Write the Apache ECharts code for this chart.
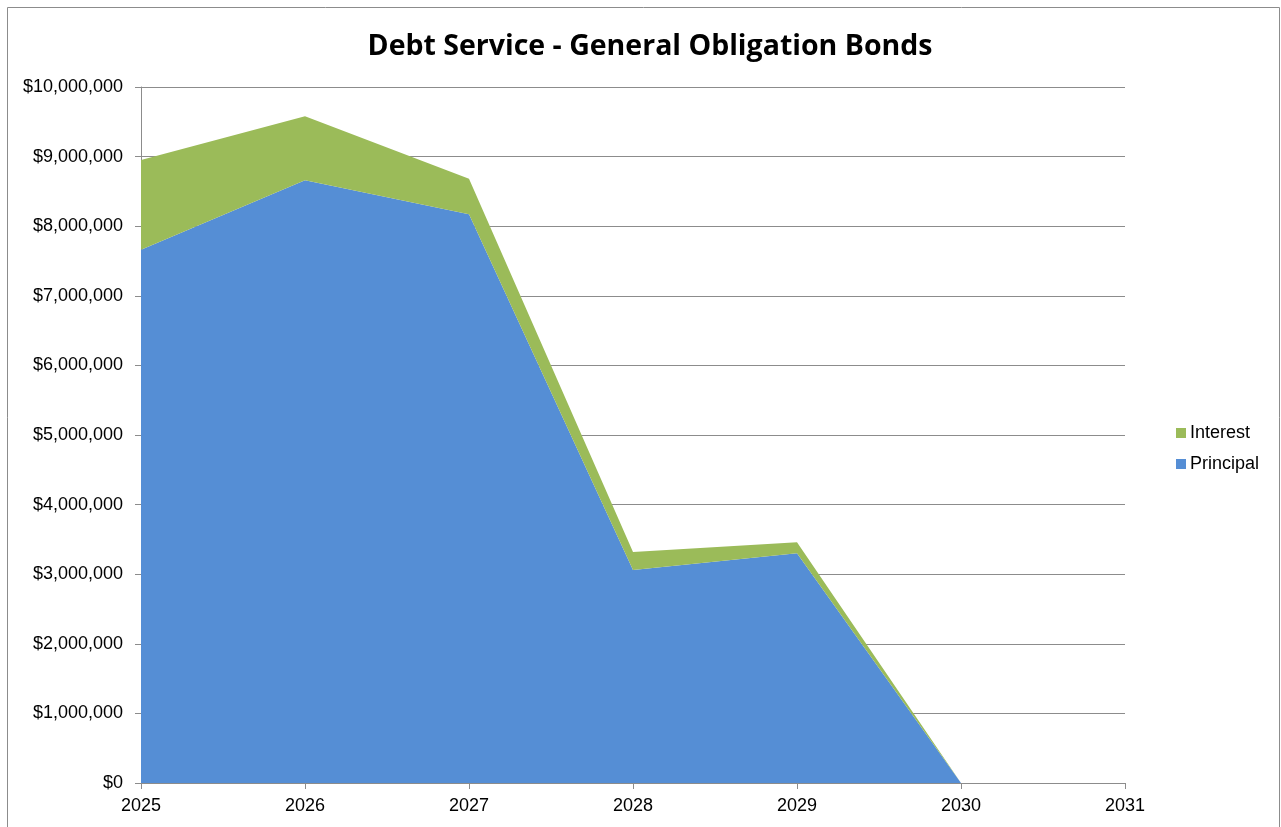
<!DOCTYPE html>
<html>
<head>
<meta charset="utf-8">
<script src="https://cdn.jsdelivr.net/npm/echarts@6/dist/echarts.min.js"></script>
<style>
  html, body { margin: 0; padding: 0; background: #fff; }
  #chart { width: 1281px; height: 827px; }
</style>
</head>
<body>
<div id="chart"></div>
<script>
  // chart values
  const years = ['2025', '2026', '2027', '2028', '2029', '2030', '2031'];
  const principal = [7660000, 8660000, 8170000, 3060000, 3300000, 0, null];
  const interest = [1290000, 920000, 510000, 260000, 160000, 0, null];
  const yTicks = { min: 0, max: 10000000, interval: 1000000 };

  let chart = echarts.init(document.getElementById('chart'));

  let fmtMoney = (v) => '$' + v.toLocaleString('en-US');

  let option = {
    animation: false,
    backgroundColor: '#fff',
    title: {
      text: 'Debt Service - General Obligation Bonds',
      left: 645,
      textAlign: 'center',
      top: 27,
      textStyle: {
        fontFamily: 'Open Sans',
        fontWeight: 'bold',
        fontSize: 28.5,
        color: '#000'
      }
    },
    legend: {
      orient: 'vertical',
      left: 1171,
      top: 419,
      itemWidth: 10,
      itemHeight: 10,
      itemGap: 13,
      icon: 'rect',
      data: ['Interest', 'Principal'],
      textStyle: {
        fontFamily: 'Liberation Sans',
        fontSize: 18,
        color: '#000',
        padding: [0, 0, 0, -1]
      }
    },
    graphic: [{
      type: 'rect',
      shape: { x: 7.5, y: 7.5, width: 1272, height: 840 },
      style: { fill: 'none', stroke: '#8c8c8c', lineWidth: 1 },
      silent: true
    }],
    grid: {
      left: 141,
      right: 156,
      top: 87,
      bottom: 44
    },
    xAxis: {
      type: 'category',
      boundaryGap: false,
      data: years,
      axisLine: { lineStyle: { color: '#8c8c8c', width: 1 } },
      axisTick: { show: true, length: 6, lineStyle: { color: '#8c8c8c' } },
      axisLabel: {
        fontFamily: 'Liberation Sans',
        fontSize: 18,
        color: '#000',
        margin: 14
      },
      splitLine: { show: false }
    },
    yAxis: {
      type: 'value',
      min: yTicks.min,
      max: yTicks.max,
      interval: yTicks.interval,
      axisLine: { show: true, lineStyle: { color: '#8c8c8c', width: 1 } },
      axisTick: { show: true, length: 6, lineStyle: { color: '#8c8c8c' } },
      axisLabel: {
        fontFamily: 'Liberation Sans',
        fontSize: 18,
        color: '#000',
        margin: 18,
        formatter: fmtMoney
      },
      splitLine: { show: true, lineStyle: { color: '#8c8c8c', width: 1 } }
    },
    series: [
      {
        name: 'Principal',
        type: 'line',
        stack: 'total',
        data: principal,
        symbol: 'none',
        lineStyle: { width: 0 },
        areaStyle: { color: '#558ED5', opacity: 1 },
        itemStyle: { color: '#558ED5' }
      },
      {
        name: 'Interest',
        type: 'line',
        stack: 'total',
        data: interest,
        symbol: 'none',
        lineStyle: { width: 0 },
        areaStyle: { color: '#9BBB59', opacity: 1 },
        itemStyle: { color: '#9BBB59' }
      }
    ]
  };

  chart.setOption(option);
</script>
</body>
</html>
